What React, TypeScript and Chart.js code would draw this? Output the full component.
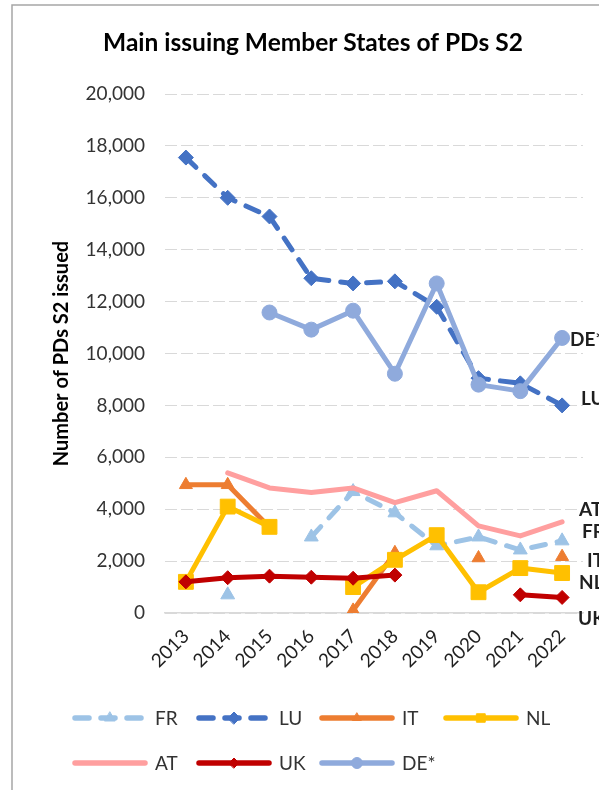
import React, { useEffect, useRef } from "react";
import { Chart, registerables } from "chart.js";
import { drawPoint } from "chart.js/helpers";

Chart.register(...registerables);

// ---------- data ----------
const years = ["2013", "2014", "2015", "2016", "2017", "2018", "2019", "2020", "2021", "2022"];
const seriesNames = ["FR", "LU", "IT", "NL", "AT", "UK", "DE*"];
const frValues = [null, 700, null, 2930, 4680, 3860, 2590, 2930, 2430, 2780];
const luValues = [17550, 16000, 15280, 12900, 12700, 12780, 11800, 9050, 8850, 8000];
const itValues = [4940, 4940, 3300, null, 100, 2320, null, 2120, null, 2170];
const nlValues = [1200, 4100, 3320, null, 1000, 2050, 3000, 800, 1730, 1540];
const atValues = [null, 5400, 4820, 4640, 4820, 4250, 4710, 3360, 2970, 3510];
const ukValues = [1200, 1360, 1420, 1380, 1340, 1460, null, null, 700, 600];
const deValues = [null, null, 11580, 10920, 11650, 9220, 12700, 8800, 8550, 10600];
const yTickMin = 0;
const yTickMax = 20000;
const yTickStep = 2000;
const chartTitle = "Main issuing Member States of PDs S2";
const yAxisTitle = "Number of PDs S2 issued";

const FONT = "Lato, 'Open Sans', sans-serif";

// ---------- styles ----------
const seriesStyles = [
  { color: "#9DC3E6", dash: [14, 12], point: "triangle", radius: 8, lRadius: 6 },
  { color: "#4472C4", dash: [14, 12], point: "rectRot", radius: 7.5, lRadius: 6 },
  { color: "#ED7D31", dash: [], point: "triangle", radius: 7.5, lRadius: 5 },
  { color: "#FFC000", dash: [], point: "rect", radius: 10.5, lRadius: 6 },
  { color: "#FF9F9F", dash: [], point: false, radius: 0, lRadius: 0 },
  { color: "#C00000", dash: [], point: "rectRot", radius: 7, lRadius: 5 },
  { color: "#8FAADC", dash: [], point: "circle", radius: 7.5, lRadius: 5.5 },
];
const seriesValues = [frValues, luValues, itValues, nlValues, atValues, ukValues, deValues];

// end-of-line label offsets (from the last point), px
const endLabelOffsets = [
  [20, -9],   // FR
  [19, -7],   // LU
  [25, 4],    // IT
  [17, 10],   // NL
  [17, -12],  // AT
  [16, 21],   // UK
  [8, 2],     // DE*
];

// legend layout
const legendCols = [73, 197, 320, 444];
const legendRows = [718, 763];
const legendSlots = [
  [0, 0], [1, 0], [2, 0], [3, 0],
  [0, 1], [1, 1], [2, 1],
];

const CANVAS_W = 680;
const CANVAS_H = 790;
const PLOT_RIGHT = 583;
const PLOT_LEFT = 165;
const PLOT_TOP = 94;
const PLOT_BOTTOM = 613;
const X_AXIS_H = 80;
const LINE_W = 5;

const decorPlugin = {
  id: "decor",
  beforeDraw(chart: any) {
    const ctx = chart.ctx;
    ctx.save();
    ctx.strokeStyle = "#A6A6A6";
    ctx.lineWidth = 1.5;
    ctx.beginPath();
    ctx.moveTo(12, CANVAS_H + 10);
    ctx.lineTo(12, 5);
    ctx.lineTo(CANVAS_W + 10, 5);
    ctx.stroke();
    ctx.fillStyle = "#000000";
    ctx.font = `bold 24.5px ${FONT}`;
    ctx.textAlign = "center";
    ctx.textBaseline = "middle";
    ctx.fillText(chartTitle, 313, 43);
    ctx.restore();
  },
  afterDraw(chart: any) {
    const ctx = chart.ctx;
    ctx.save();
    // end labels
    ctx.font = `bold 19px ${FONT}`;
    ctx.fillStyle = "#1F1F1F";
    ctx.textAlign = "left";
    ctx.textBaseline = "middle";
    chart.data.datasets.forEach((ds: any, i: number) => {
      const meta = chart.getDatasetMeta(i);
      const idx = ds.data.length - 1;
      const pt = meta.data[idx];
      if (!pt || ds.data[idx] == null) return;
      const [dx, dy] = endLabelOffsets[i];
      ctx.fillText(ds.label, pt.x + dx, pt.y + dy);
    });
    // legend
    chart.data.datasets.forEach((ds: any, i: number) => {
      const st = seriesStyles[i];
      const [c, r] = legendSlots[i];
      const x0 = legendCols[c];
      const y = legendRows[r];
      const len = 72;
      ctx.save();
      ctx.strokeStyle = st.color;
      ctx.lineWidth = 5.5;
      ctx.lineCap = "round";
      ctx.setLineDash(st.dash);
      ctx.beginPath();
      ctx.moveTo(x0 + 2, y);
      ctx.lineTo(x0 + len, y);
      ctx.stroke();
      ctx.setLineDash([]);
      if (st.point) {
        ctx.fillStyle = st.color;
        ctx.strokeStyle = st.color;
        ctx.lineWidth = 1;
        drawPoint(ctx, { pointStyle: st.point, radius: st.lRadius, rotation: 0, borderWidth: 1 } as any, x0 + len / 2 + 1, y);
      }
      ctx.restore();
      ctx.font = `19px ${FONT}`;
      ctx.fillStyle = "#333333";
      ctx.textAlign = "left";
      ctx.textBaseline = "middle";
      ctx.fillText(ds.label, x0 + 82, y + 1);
    });
    ctx.restore();
  },
};

export default function App() {
  const canvasRef = useRef<HTMLCanvasElement | null>(null);

  useEffect(() => {
    let chart: Chart | null = null;
    let cancelled = false;
    const build = () => {
      if (cancelled || !canvasRef.current) return;
      const datasets = seriesNames.map((name, i) => {
        const st = seriesStyles[i];
        return {
          label: name,
          data: seriesValues[i],
          borderColor: st.color,
          backgroundColor: st.color,
          borderWidth: LINE_W,
          borderDash: st.dash,
          borderCapStyle: "round",
          borderJoinStyle: "round",
          pointStyle: st.point,
          pointRadius: st.radius,
          pointHoverRadius: st.radius,
          pointBackgroundColor: st.color,
          pointBorderColor: st.color,
          pointBorderWidth: 1,
          spanGaps: false,
          tension: 0,
          order: seriesNames.length - i,
        };
      });
      chart = new Chart(canvasRef.current, {
        type: "line",
        data: { labels: years, datasets: datasets as any },
        plugins: [decorPlugin],
        options: {
          animation: false,
          responsive: false,
          devicePixelRatio: 1,
          layout: {
            padding: {
              left: 0,
              right: CANVAS_W - PLOT_RIGHT,
              top: PLOT_TOP,
              bottom: CANVAS_H - PLOT_BOTTOM - X_AXIS_H,
            },
          },
          plugins: {
            legend: { display: false },
            title: { display: false },
            tooltip: { enabled: false },
          },
          scales: {
            x: {
              type: "category",
              offset: true,
              grid: { display: false, drawTicks: false },
              border: { display: true, color: "#D9D9D9", width: 1.5 },
              ticks: {
                minRotation: 45,
                maxRotation: 45,
                padding: 12,
                color: "#1F1F1F",
                font: { family: FONT, size: 19 },
              },
              afterFit: (s: any) => {
                s.height = X_AXIS_H;
              },
            },
            y: {
              min: yTickMin,
              max: yTickMax,
              grid: { color: "#D9D9D9", lineWidth: 1, drawTicks: false },
              border: { display: false, dash: [12, 4] },
              ticks: {
                stepSize: yTickStep,
                padding: 20,
                color: "#333333",
                font: { family: FONT, size: 19 },
              },
              title: {
                display: true,
                text: yAxisTitle,
                color: "#000000",
                font: { family: FONT, size: 20, weight: "bold" },
                padding: { top: 50, bottom: 0 },
              },
              afterFit: (s: any) => {
                s.width = PLOT_LEFT;
              },
            },
          },
        } as any,
      });
    };
    const fonts: any = (document as any).fonts;
    if (fonts && fonts.load) {
      Promise.all([
        fonts.load(`19px Lato`),
        fonts.load(`bold 19px Lato`),
      ]).then(build, build);
    } else {
      build();
    }
    return () => {
      cancelled = true;
      if (chart) chart.destroy();
    };
  }, []);

  return (
    <div
      style={{
        position: "fixed",
        left: 0,
        top: 0,
        width: 599,
        height: 790,
        overflow: "hidden",
        background: "#ffffff",
      }}
    >
      <canvas
        ref={canvasRef}
        width={CANVAS_W}
        height={CANVAS_H}
        style={{ position: "absolute", left: 0, top: 0, width: CANVAS_W, height: CANVAS_H }}
      />
    </div>
  );
}
